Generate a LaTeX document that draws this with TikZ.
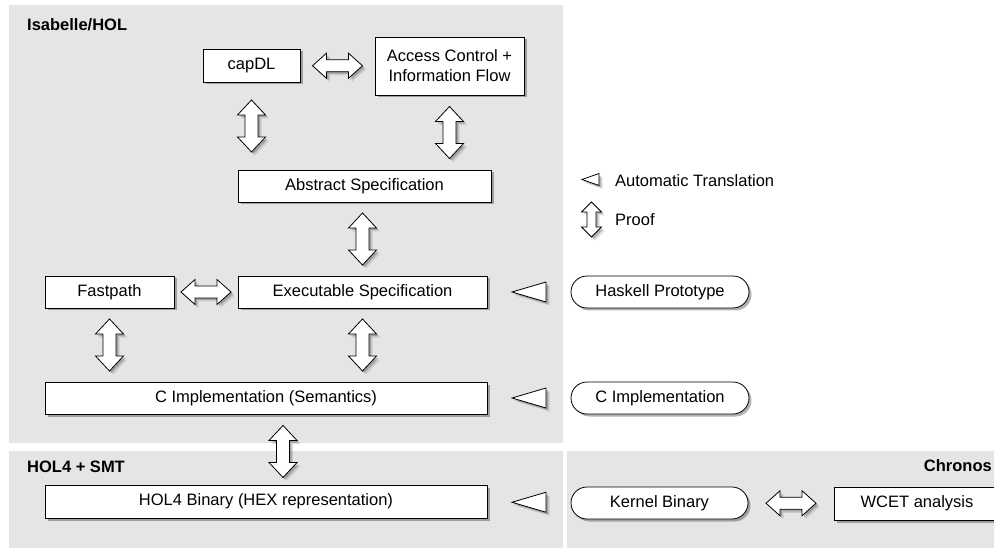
\documentclass[tikz,border=0pt]{standalone}
\usepackage{fontspec}
\setmainfont{Liberation Sans}
\usetikzlibrary{shadows,calc}
\definecolor{panel}{RGB}{229,229,229}
\tikzset{
  txt/.style={font=\fontsize{16.5}{20}\selectfont},
  box/.style={txt, draw=black, line width=0.8pt, fill=white, minimum height=32pt,
    inner sep=0pt, align=center,
    drop shadow={shadow xshift=2.5pt, shadow yshift=-2.5pt, opacity=0.3, fill=black}},
  stadium/.style={box, rounded corners=16pt},
  lbl/.style={font=\fontsize{16.5}{20}\selectfont\bfseries, inner sep=0pt},
  arrowline/.style={draw=black, line width=0.8pt, fill=white, line join=miter},
}
% block double arrow: #1 centre, #2 angle, #3 half length, #4 head half width, #5 shaft half width, #6 head length
\newcommand\blockarr[6]{%
  \foreach \o/\op in {3.5/0.12,2/0.2}{%
    \fill[black, opacity=\op, shift={($(#1)+(\o,\o)$)}, rotate=#2]
      (-#3,0) -- ({-#3+#6},#4) -- ({-#3+#6},#5) -- ({#3-#6},#5) -- ({#3-#6},#4) -- (#3,0)
      -- ({#3-#6},-#4) -- ({#3-#6},-#5) -- ({-#3+#6},-#5) -- ({-#3+#6},-#4) -- cycle;}
  \filldraw[arrowline, shift={(#1)}, rotate=#2]
      (-#3,0) -- ({-#3+#6},#4) -- ({-#3+#6},#5) -- ({#3-#6},#5) -- ({#3-#6},#4) -- (#3,0)
      -- ({#3-#6},-#4) -- ({#3-#6},-#5) -- ({-#3+#6},-#5) -- ({-#3+#6},-#4) -- cycle;
}
% open triangle pointing left: #1 centre, #2 half length, #3 half height
\newcommand\transarr[3]{%
  \foreach \o/\op in {3.5/0.12,2/0.2}{%
    \fill[black, opacity=\op, shift={($(#1)+(\o,\o)$)}] (-#2,0) -- (#2,-#3) -- (#2,#3) -- cycle;}
  \filldraw[arrowline, shift={(#1)}] (-#2,0) -- (#2,-#3) -- (#2,#3) -- cycle;
}
\begin{document}
\begin{tikzpicture}[x=1pt,y=-1pt]
\useasboundingbox (0,0) rectangle (994,548);
\clip (0,0) rectangle (994,548);
% panels
\fill[panel] (9,5) rectangle (563,443);
\fill[panel] (9,451) rectangle (563,548);
\fill[panel] (567,451) rectangle (994,548);
\node[lbl, anchor=base west] (isa) at (27,31) {Isabelle/HOL};
\node[lbl, anchor=base west] (hol) at (27,472) {HOL4 + SMT};
\node[lbl, anchor=base east] (chr) at (992,471) {Chronos};

% nodes
\node[box, minimum width=97pt, minimum height=33pt] (capdl) at (251.5,65.5) {capDL};
\node[box, minimum width=149pt, minimum height=58pt] (acif) at (449.5,66) {Access Control +\\Information Flow};
\node[box, minimum width=253pt] (abs) at (364.5,186) {Abstract Specification};
\node[box, minimum width=249pt] (exec) at (362.5,292) {Executable Specification};
\node[box, minimum width=129pt] (fast) at (109.5,292) {Fastpath};
\node[box, minimum width=442pt] (cimpl) at (266,398) {C Implementation (Semantics)};
\node[box, minimum width=442pt, minimum height=33pt] (hol4) at (266,501.5) {HOL4 Binary (HEX representation)};
\node[stadium, minimum width=178pt] (hask) at (660,292) {Haskell Prototype};
\node[stadium, minimum width=178pt] (csrc) at (660,398) {C Implementation};
\node[stadium, minimum width=177pt] (kbin) at (659.5,503) {Kernel Binary};
\node[box, minimum width=166pt, minimum height=33pt] (wcet) at (917,503.5) {WCET analysis};

% horizontal proof arrows
\coordinate (h1) at ($(capdl.east)!0.5!(acif.west)$);
\blockarr{h1}{0}{25}{12.5}{6}{14}
\coordinate (h2) at ($(fast.east)!0.5!(exec.west)$);
\blockarr{h2}{0}{25}{12.5}{6}{14}
\coordinate (h3) at ($(kbin.east)!0.5!(wcet.west)$);
\blockarr{h3}{0}{25}{12.5}{6}{14}

% vertical proof arrows
\coordinate (v1m) at ($(capdl.south)!0.5!(abs.north)$);
\coordinate (v1) at (capdl.south |- v1m);
\blockarr{v1}{90}{26}{14}{6.5}{15}
\coordinate (v2m) at ($(acif.south)!0.5!(abs.north)$);
\coordinate (v2) at (acif.south |- v2m);
\blockarr{v2}{90}{26}{14}{6.5}{15}
\coordinate (v3m) at ($(abs.south)!0.5!(exec.north)$);
\coordinate (v3) at (exec.north |- v3m);
\blockarr{v3}{90}{26}{14}{6.5}{15}
\coordinate (v4m) at ($(fast.south)!0.5!(cimpl.north)$);
\coordinate (v4) at (fast.south |- v4m);
\blockarr{v4}{90}{26}{14}{6.5}{15}
\coordinate (v5m) at ($(exec.south)!0.5!(cimpl.north)$);
\coordinate (v5) at (exec.south |- v5m);
\blockarr{v5}{90}{26}{14}{6.5}{15}
\coordinate (v6) at ($(cimpl.south)!0.5!(hol4.north)+(17,2)$);
\blockarr{v6}{90}{26}{14}{6.5}{15}

% automatic translation arrows
\coordinate (t1) at ($(exec.east)!0.5!(hask.west)$);
\transarr{t1}{17}{10}
\coordinate (t2) at ($(cimpl.east)!0.5!(csrc.west)$);
\transarr{t2}{17}{10}
\coordinate (t3) at ($(hol4.east)!0.5!(kbin.west)$);
\transarr{t3}{17}{10}

% legend
\coordinate (lg1) at (590.5,179.5);
\transarr{lg1}{8.5}{6}
\node[txt, anchor=west, inner sep=0pt] (ltrans) at (615,181) {Automatic Translation};
\coordinate (lg2) at (591.5,219.5);
\blockarr{lg2}{90}{17.5}{10}{4.5}{10}
\node[txt, anchor=west, inner sep=0pt] (lproof) at (615,220) {Proof};
\end{tikzpicture}
\end{document}
